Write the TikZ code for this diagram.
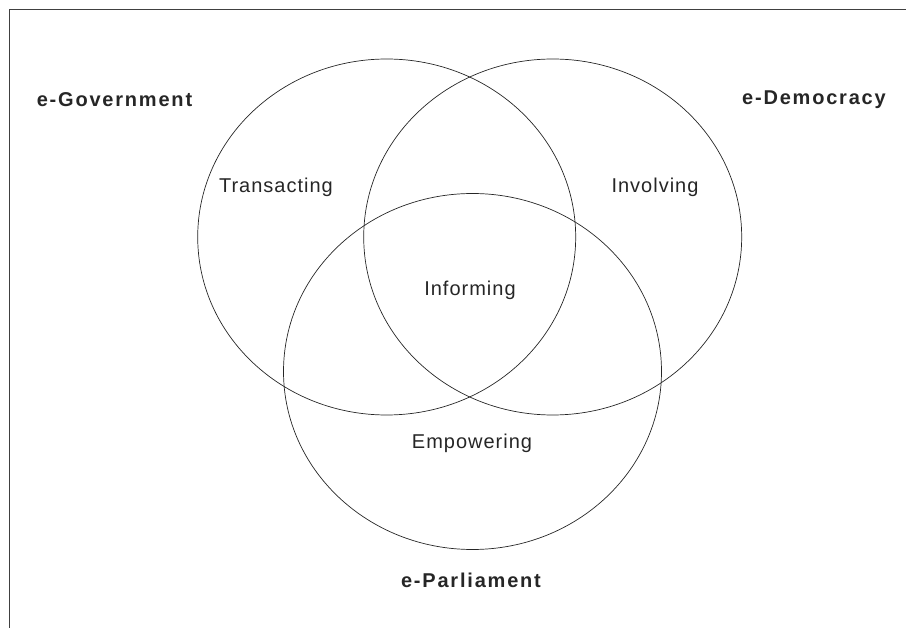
\documentclass[tikz,border=0pt]{standalone}
\usepackage{fontspec}
\setmainfont{Liberation Sans}
\newfontfamily\widefont[LetterSpace=9]{Liberation Sans}
\newfontfamily\spacedfont[LetterSpace=5]{Liberation Sans}
\usetikzlibrary{shapes.geometric, positioning}
\tikzset{
    x=1pt, y=-1pt, % one unit per pixel of the picture
    area/.style={draw=black!85, ellipse, line width=0.7pt, minimum width=378pt, minimum height=356pt}, % the three sets
    field/.style={font=\widefont\bfseries\fontsize{20}{22}\selectfont, text=black!85}, % set names
    activity/.style={font=\spacedfont\fontsize{20}{22}\selectfont, text=black!85}, % region names
    frame/.style={draw=black!75, line width=1.8pt},
}
\begin{document}
\begin{tikzpicture}
    \useasboundingbox (0,0) rectangle (906,628);
    \coordinate (corner) at (9.5,9.5);
    \coordinate (topend) at (906,9.5);
    \coordinate (leftend) at (9.5,628);
    \draw[frame] (topend) -- (corner) -- (leftend);

    \node[area] (gov) at (386.7,237) {};
    \node[area] (demo) at (552.7,237) {};
    \node[area] (parl) at (472.5,371.5) {};

    \node[field] (govname) at (114.5,100) {e-Government};
    \node[field] (demoname) at (814,100) {e-Democracy};
    \node[field] (parlname) at (471,580) {e-Parliament};

    \node[activity] (trans) at (276,187) {Transacting};
    \node[activity] (invol) at (655,187) {Involving};
    \node[activity] (inform) at (470,290) {Informing};
    \node[activity] (empow) at (472,443) {Empowering};
\end{tikzpicture}
\end{document}
